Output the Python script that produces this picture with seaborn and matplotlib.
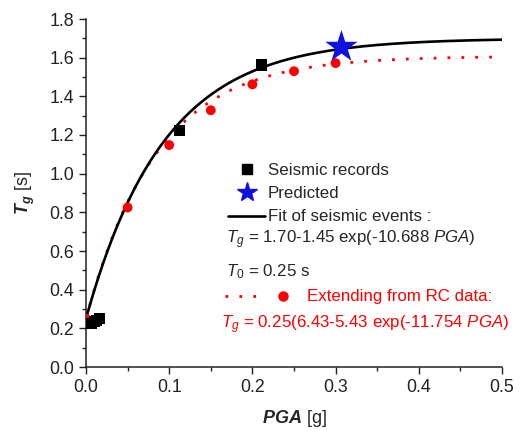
import numpy as np
import pandas as pd
import matplotlib
matplotlib.use('Agg')
import matplotlib.pyplot as plt
from matplotlib.lines import Line2D
from matplotlib.legend_handler import HandlerTuple
from matplotlib.ticker import MultipleLocator
import seaborn as sns

# seismic records (PGA [g], Tg [s])
seis_pga = [0.007, 0.010, 0.013, 0.016, 0.112, 0.211]
seis_tg = [0.225, 0.235, 0.240, 0.250, 1.225, 1.562]

# values extended from RC data
rc_pga = [0.0, 0.05, 0.10, 0.15, 0.20, 0.25, 0.30]
rc_tg = [0.25, 0.825, 1.148, 1.328, 1.462, 1.530, 1.572]

# predicted point
pred_pga = [0.307]
pred_tg = [1.655]

# fit coefficients, as written on the chart
FIT_SEIS = (1.70, 1.45, 10.688)
FIT_RC = (0.25, 6.43, 5.43, 11.754)

sns.set_style('ticks')
plt.rcParams['font.family'] = ['Liberation Sans', 'DejaVu Sans']
plt.rcParams['mathtext.fontset'] = 'custom'
plt.rcParams['mathtext.rm'] = 'Liberation Sans'
plt.rcParams['mathtext.it'] = 'Liberation Sans:italic'
plt.rcParams['mathtext.bf'] = 'Liberation Sans:bold'
plt.rcParams['mathtext.bfit'] = 'Liberation Sans:italic:bold'

W, H = 524, 430
FS = 12.2


def px(x, y):
    # pixel position -> figure fraction
    return x / W, 1 - y / H


pga_grid = np.linspace(0, 0.5, 300)
fit_df = pd.DataFrame({
    'PGA': pga_grid,
    'seis': FIT_SEIS[0] - FIT_SEIS[1] * np.exp(-FIT_SEIS[2] * pga_grid),
    'rc': FIT_RC[0] * (FIT_RC[1] - FIT_RC[2] * np.exp(-FIT_RC[3] * pga_grid)),
})

fig = plt.figure(figsize=(W / 100, H / 100), dpi=100)
ax = fig.add_axes([86 / W, 1 - 367 / H, (502 - 86) / W, (367 - 19) / H])

sns.lineplot(data=fit_df, x='PGA', y='rc', ax=ax, color='red', linewidth=2.0,
             linestyle=(0, (1, 4)), zorder=2)
sns.lineplot(data=fit_df, x='PGA', y='seis', ax=ax, color='black', linewidth=1.9, zorder=3)
sns.scatterplot(x=rc_pga, y=rc_tg, ax=ax, color='red', marker='o', s=50,
                edgecolor='none', zorder=4)
sns.scatterplot(x=seis_pga, y=seis_tg, ax=ax, color='black', marker='s', s=65,
                edgecolor='none', zorder=5)
sns.scatterplot(x=pred_pga, y=pred_tg, ax=ax, color='#1010e0', marker='*', s=600,
                edgecolor='none', zorder=6)

ax.set_xlim(0, 0.5)
ax.set_ylim(0, 1.8)
ax.xaxis.set_major_locator(MultipleLocator(0.1))
ax.xaxis.set_minor_locator(MultipleLocator(0.05))
ax.yaxis.set_major_locator(MultipleLocator(0.2))
ax.yaxis.set_minor_locator(MultipleLocator(0.1))
ax.xaxis.set_major_formatter(plt.FormatStrFormatter('%.1f'))
ax.yaxis.set_major_formatter(plt.FormatStrFormatter('%.1f'))
ax.tick_params(which='major', direction='out', length=5, width=1, labelsize=12.8,
               colors='#222222')
ax.tick_params(which='minor', direction='out', length=3, width=1, colors='#222222')
for s in ['left', 'bottom']:
    ax.spines[s].set_linewidth(1.1)
    ax.spines[s].set_color('#222222')
sns.despine(ax=ax)

ax.set_xlabel(r'$\mathbfit{PGA}$ [g]', fontsize=13, labelpad=9)
ax.set_ylabel(r'$\mathbfit{T}_{\mathbfit{g}}$ [s]', fontsize=13, labelpad=9)

# legend, first block
h_seis = Line2D([], [], color='black', marker='s', linestyle='none', markersize=7.5)
h_pred = Line2D([], [], color='#1010e0', marker='*', linestyle='none', markersize=15)
h_fit = Line2D([], [], color='black', linewidth=1.9)
leg1 = fig.legend([h_seis, h_pred, h_fit],
                  ['Seismic records', 'Predicted', 'Fit of seismic events :'],
                  loc='center left', bbox_to_anchor=px(228, 193.5), frameon=False,
                  fontsize=FS, borderpad=0, borderaxespad=0, handlelength=2.2,
                  handletextpad=0.15, labelspacing=0.5)

fig.text(*px(226, 243), r'$T_g$ = 1.70-1.45 exp(-10.688 $PGA$)', fontsize=FS,
         va='baseline', ha='left')
fig.text(*px(226, 276), r'$T_0$ = 0.25 s', fontsize=FS, va='baseline', ha='left')

# legend, red block
h_dots = Line2D([], [], color='red', linewidth=2.0, linestyle=(0, (1, 4)))
h_circ = Line2D([], [], color='red', marker='o', linestyle='none', markersize=6.5)
leg2 = fig.legend([(h_dots, h_circ)], ['Extending from RC data:'],
                  handler_map={tuple: HandlerTuple(ndivide=None, pad=0.5)},
                  loc='center left', bbox_to_anchor=px(225, 297), frameon=False,
                  fontsize=FS, borderpad=0, borderaxespad=0, handlelength=4.4,
                  handletextpad=0.45, labelcolor='red')

fig.text(*px(221, 328), r'$T_g$ = 0.25(6.43-5.43 exp(-11.754 $PGA$)', fontsize=FS,
         va='baseline', ha='left', color='red')

fig.savefig('out.png', dpi=100)
